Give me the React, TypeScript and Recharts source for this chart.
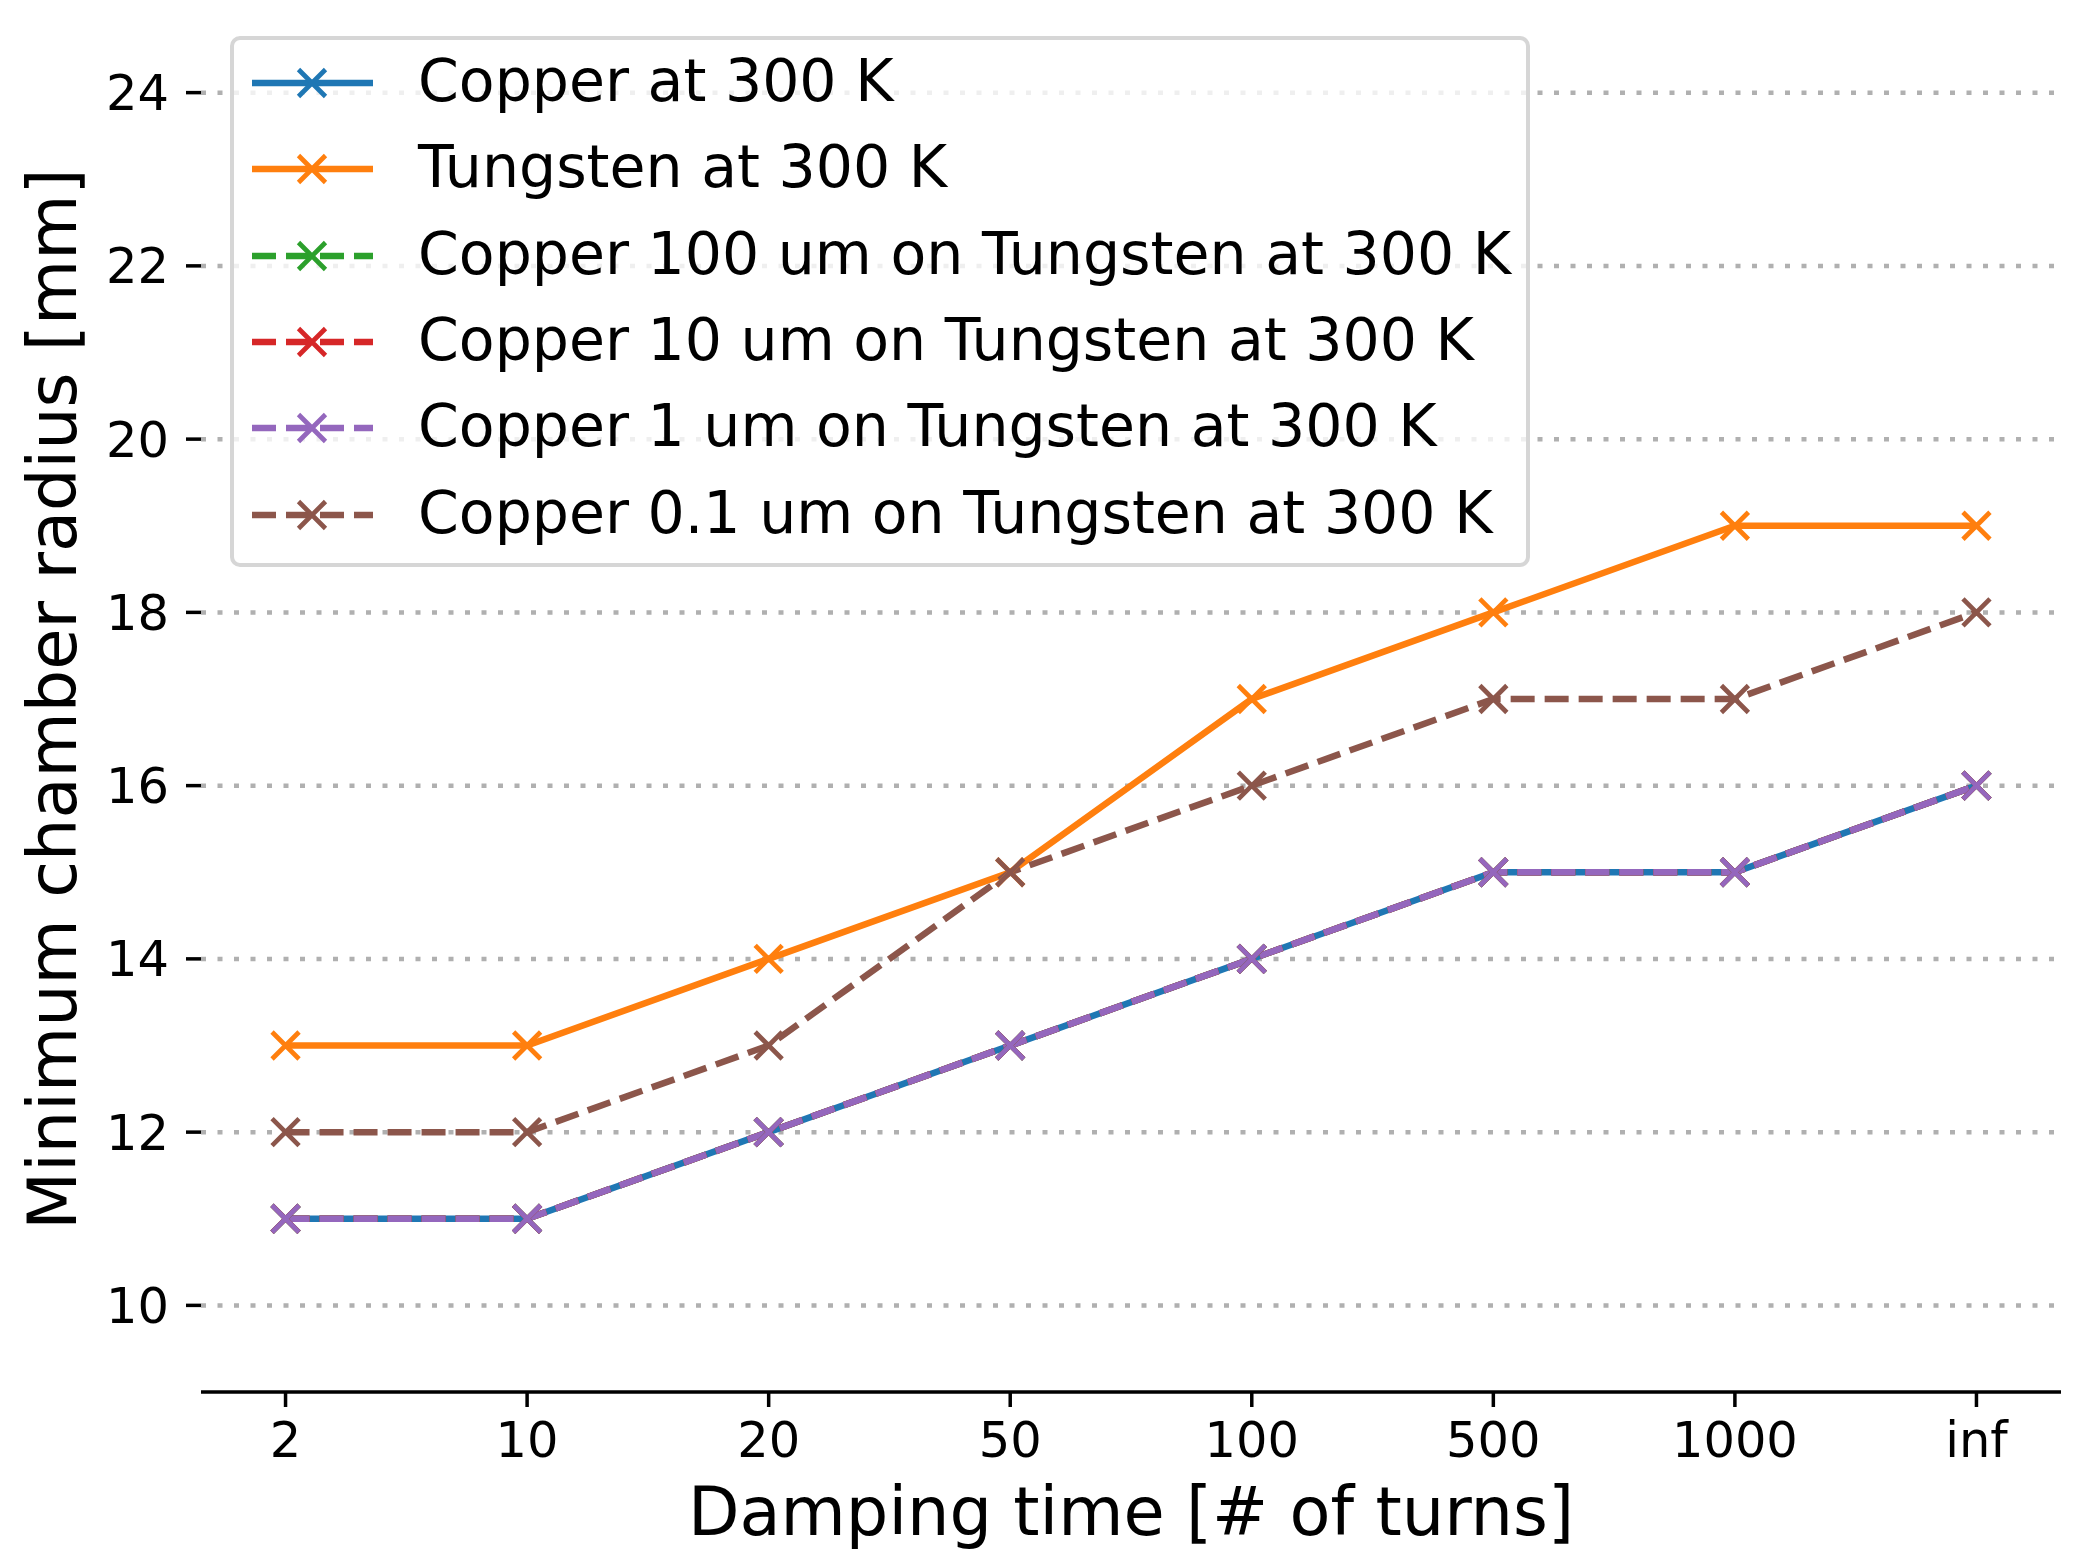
import React from 'react'
import { LineChart, Line, XAxis, YAxis, CartesianGrid, Label } from 'recharts'

// damping time categories (x axis)
const dampingTimes = ['2', '10', '20', '50', '100', '500', '1000', 'inf']

// minimum chamber radius [mm] per material
const copper300 = [11, 11, 12, 13, 14, 15, 15, 16]
const tungsten300 = [13, 13, 14, 15, 17, 18, 19, 19]
const copper100um = [11, 11, 12, 13, 14, 15, 15, 16]
const copper10um = [11, 11, 12, 13, 14, 15, 15, 16]
const copper1um = [11, 11, 12, 13, 14, 15, 15, 16]
const copper01um = [12, 12, 13, 15, 16, 17, 17, 18]

const yTicks = [10, 12, 14, 16, 18, 20, 22, 24]

const FONT = '"DejaVu Sans", "Liberation Sans", sans-serif'

const SERIES = [
    { key: 'cu', name: 'Copper at 300 K', color: '#1f77b4', dashed: false, values: copper300 },
    { key: 'w', name: 'Tungsten at 300 K', color: '#ff7f0e', dashed: false, values: tungsten300 },
    { key: 'cu100', name: 'Copper 100 um on Tungsten at 300 K', color: '#2ca02c', dashed: true, values: copper100um },
    { key: 'cu10', name: 'Copper 10 um on Tungsten at 300 K', color: '#d62728', dashed: true, values: copper10um },
    { key: 'cu1', name: 'Copper 1 um on Tungsten at 300 K', color: '#9467bd', dashed: true, values: copper1um },
    { key: 'cu01', name: 'Copper 0.1 um on Tungsten at 300 K', color: '#8c564b', dashed: true, values: copper01um },
]

const data = dampingTimes.map((label, i) => {
    const row: Record<string, number | string> = { x: i, label }
    SERIES.forEach((s) => { row[s.key] = s.values[i] })
    return row
})

const LINE_W = 6.5
const DASH = '24 10'
const M = 13.5

function XMark({ cx, cy, stroke }: any) {
    if (cx == null || cy == null) return null
    return (
        <path
            d={`M${cx - M},${cy - M}L${cx + M},${cy + M}M${cx - M},${cy + M}L${cx + M},${cy - M}`}
            stroke={stroke}
            strokeWidth={4.7}
            fill="none"
        />
    )
}

function LegendBox() {
    return (
        <div
            style={{
                position: 'absolute', left: 230, top: 36, width: 1300, height: 531,
                boxSizing: 'border-box', border: '4px solid #d6d6d6', borderRadius: 10,
                background: 'rgba(255,255,255,0.8)', paddingTop: 0,
            }}
        >
            {SERIES.map((s) => (
                <div key={s.key} style={{ display: 'flex', alignItems: 'center', height: 86.3 }}>
                    <svg width={140} height={40} style={{ marginLeft: 18, flex: 'none' }}>
                        <line x1={0} y1={20} x2={121} y2={20} stroke={s.color} strokeWidth={LINE_W}
                            strokeDasharray={s.dashed ? DASH : undefined} />
                        <XMark cx={60} cy={20} stroke={s.color} />
                    </svg>
                    <span style={{ fontFamily: FONT, fontSize: 58.5, lineHeight: '60px', color: '#000', marginLeft: 26, whiteSpace: 'nowrap', position: 'relative', top: -2 }}>
                        {s.name}
                    </span>
                </div>
            ))}
        </div>
    )
}

export default function App() {
    return (
        <div style={{ position: 'absolute', left: 0, top: 0, width: 2083, height: 1558, background: '#fff' }}>
            <LineChart width={2083} height={1558} data={data} margin={{ top: 6, right: 22, left: 0, bottom: 0 }}>
                <CartesianGrid vertical={false} horizontalValues={yTicks} stroke="#b0b0b0" strokeWidth={4.5} strokeDasharray="5 11.5" />
                <XAxis
                    dataKey="x"
                    type="number"
                    domain={[-0.35, 7.35]}
                    ticks={[0, 1, 2, 3, 4, 5, 6, 7]}
                    interval={0}
                    allowDataOverflow
                    tickFormatter={(v) => dampingTimes[v] ?? ''}
                    height={166}
                    tickSize={15}
                    tickMargin={15}
                    axisLine={{ stroke: '#000', strokeWidth: 3.5 }}
                    tickLine={{ stroke: '#000', strokeWidth: 3.5 }}
                    tick={{ fill: '#000', fontSize: 49.5, fontFamily: FONT }}
                >
                    <Label
                        content={() => (
                            <text x={1131} y={1535} textAnchor="middle" fontSize={67} fontFamily={FONT} fill="#000">
                                Damping time [# of turns]
                            </text>
                        )}
                    />
                </XAxis>
                <YAxis
                    type="number"
                    domain={[9, 25]}
                    ticks={yTicks}
                    interval={0}
                    allowDataOverflow
                    width={201}
                    tickSize={15}
                    tickMargin={17}
                    axisLine={false}
                    tickLine={{ stroke: '#000', strokeWidth: 3.5 }}
                    tick={{ fill: '#000', fontSize: 49.5, fontFamily: FONT }}
                >
                    <Label
                        content={() => (
                            <text x={76} y={699} transform="rotate(-90, 76, 699)" textAnchor="middle" fontSize={67}
                                fontFamily={FONT} fill="#000">
                                Minimum chamber radius [mm]
                            </text>
                        )}
                    />
                </YAxis>
                {SERIES.map((s) => (
                    <Line
                        key={s.key}
                        dataKey={s.key}
                        name={s.name}
                        type="linear"
                        stroke={s.color}
                        strokeWidth={LINE_W}
                        strokeDasharray={s.dashed ? DASH : undefined}
                        dot={(p: any) => <XMark key={`${s.key}-${p.index}`} cx={p.cx} cy={p.cy} stroke={s.color} />}
                        activeDot={false}
                        isAnimationActive={false}
                    />
                ))}
            </LineChart>
            <LegendBox />
        </div>
    )
}
